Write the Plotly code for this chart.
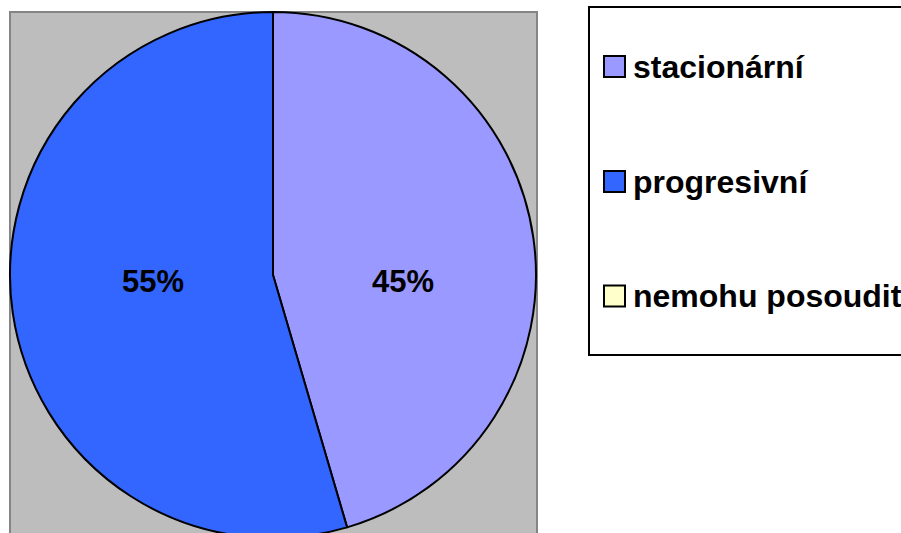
import math
import plotly.graph_objects as go

categories = ["stacionární", "progresivní", "nemohu posoudit"]
values = [5, 6, 0]
colors = ["#9999FF", "#3366FF", "#FFFFCC"]

W, H = 901, 541

def px_x(x):
    return x / W

def px_y(y):
    return 1 - y / H

# pie geometry (pixels)
PIE_L, PIE_T, PIE_D = 10, 12, 526
cx, cy, r = PIE_L + PIE_D / 2, PIE_T + PIE_D / 2, PIE_D / 2

fig = go.Figure()
fig.add_trace(go.Pie(
    labels=categories,
    values=values,
    marker=dict(colors=colors, line=dict(color="black", width=2)),
    sort=False,
    direction="clockwise",
    rotation=0,
    textinfo="none",
    domain=dict(x=[px_x(PIE_L), px_x(PIE_L + PIE_D)], y=[px_y(PIE_T + PIE_D), px_y(PIE_T)]),
    showlegend=False,
    hoverinfo="label+percent",
))

shapes = [
    dict(type="rect", xref="paper", yref="paper", layer="below",
         x0=px_x(10), x1=px_x(537), y0=px_y(560), y1=px_y(12),
         fillcolor="#BDBDBD", line=dict(color="#858585", width=2)),
    dict(type="rect", xref="paper", yref="paper",
         x0=px_x(589), x1=px_x(915), y0=px_y(355), y1=px_y(7),
         fillcolor="white", line=dict(color="black", width=2), layer="below"),
]

annotations = []

# percentage labels computed from the values
total = sum(values)
start = 0.0
for v in values:
    if v > 0:
        mid = (start + v / 2) / total * 2 * math.pi
        x = cx + 5 + 0.48 * r * math.sin(mid)
        annotations.append(dict(xref="paper", yref="paper", x=px_x(x), y=px_y(cy + 6),
                                xanchor="center", yanchor="middle", showarrow=False,
                                text=f"{round(100 * v / total)}%",
                                font=dict(family="Liberation Sans, Arial", size=31,
                                          color="black", weight="bold")))
    start += v

item_y = [66.5, 181.5, 296]
for name, col, yc in zip(categories, colors, item_y):
    shapes.append(dict(type="rect", xref="paper", yref="paper",
                       x0=px_x(604), x1=px_x(625), y0=px_y(yc + 10.5), y1=px_y(yc - 10.5),
                       fillcolor=col, line=dict(color="black", width=2)))
    annotations.append(dict(xref="paper", yref="paper", x=px_x(631), y=px_y(yc),
                            xanchor="left", yanchor="middle", showarrow=False,
                            text=name,
                            font=dict(family="Liberation Sans, Arial", size=32,
                                      color="black", weight="bold")))

fig.update_layout(
    width=W, height=H,
    margin=dict(l=0, r=0, t=0, b=0),
    paper_bgcolor="white",
    plot_bgcolor="white",
    shapes=shapes,
    annotations=annotations,
)

fig.write_html(
    "out.html",
    config={"displayModeBar": False},
    post_script="document.body.style.margin='0';document.body.style.overflow='hidden';"
                "document.documentElement.style.overflow='hidden';",
)
